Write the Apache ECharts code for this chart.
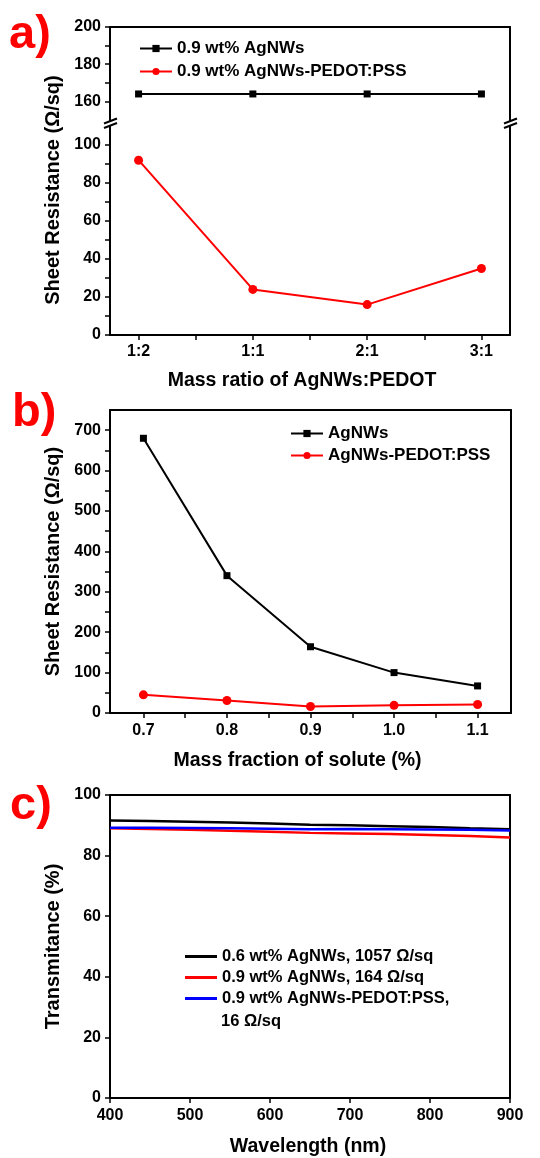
<!DOCTYPE html>
<html><head><meta charset="utf-8">
<script src="https://cdn.jsdelivr.net/npm/echarts@6/dist/echarts.min.js"></script>
<style>html,body{margin:0;padding:0;background:#fff}#c{width:540px;height:1158px}</style>
</head><body><div id="c"></div>
<script>
// ---------- Panel a ----------
const ratioCats = ['1:2', '1:1', '2:1', '3:1'];
const agA = [164, 164, 164, 164];
const pedotA = [92, 24, 16, 35];
const aUpperLabels = [160, 180, 200];
const aUpperTicks = [160, 170, 180, 190, 200];
const aLowerLabels = [0, 20, 40, 60, 80, 100];
const aLowerTicks = [0, 10, 20, 30, 40, 50, 60, 70, 80, 90, 100];
const aXTicks = [0, 0.5, 1, 1.5, 2, 2.5, 3];
const aNames = ['0.9 wt% AgNWs', '0.9 wt% AgNWs-PEDOT:PSS'];

// ---------- Panel b ----------
const massFrac = [0.7, 0.8, 0.9, 1.0, 1.1];
const agB = [680, 340, 164, 100, 67];
const pedotB = [45, 31, 16, 19, 21];
const bXTicks = [0.7, 0.75, 0.8, 0.85, 0.9, 0.95, 1.0, 1.05, 1.1];
const bYLabels = [0, 100, 200, 300, 400, 500, 600, 700];
const bYTicks = [0, 50, 100, 150, 200, 250, 300, 350, 400, 450, 500, 550, 600, 650, 700];
const bNames = ['AgNWs', 'AgNWs-PEDOT:PSS'];

// ---------- Panel c ----------
const wavelengths = [400, 450, 500, 550, 600, 650, 700, 750, 800, 850, 900];
const transAg06 = [91.6, 91.4, 91.2, 90.9, 90.6, 90.2, 90.0, 89.7, 89.4, 89.0, 88.7];
const transAg09 = [89.0, 88.8, 88.5, 88.2, 87.9, 87.5, 87.3, 87.1, 86.8, 86.5, 86.0];
const transPedot = [89.2, 89.2, 89.1, 89.0, 88.9, 88.7, 88.8, 88.7, 88.6, 88.5, 88.3];
const cNames = ['0.6 wt% AgNWs, 1057 Ω/sq', '0.9 wt% AgNWs, 164 Ω/sq', '0.9 wt% AgNWs-PEDOT:PSS, 16 Ω/sq'];

const FONT = "'Liberation Sans', Arial, sans-serif";
const BLACK = '#000000', RED = '#ff0000', BLUE = '#0000ff';
const lineAx = { show: true, onZero: false, lineStyle: { color: BLACK, width: 2 } };
const lbl = { color: BLACK, fontFamily: FONT, fontWeight: 'bold', fontSize: 16 };
const legA = { color: BLACK, fontFamily: FONT, fontWeight: 'bold', fontSize: 17 };
const legC = { color: BLACK, fontFamily: FONT, fontWeight: 'bold', fontSize: 16.5 };
const nameStyle = { color: BLACK, fontFamily: FONT, fontWeight: 'bold', fontSize: 20 };
const xNameStyle = (padR) => ({ color: BLACK, fontFamily: FONT, fontWeight: 'bold', fontSize: 19.5, padding: [0, padR, 0, 0] });
const tickStyle = { color: BLACK, width: 1.5 };

function borderAxis(grid, pos) {
  return { gridIndex: grid, type: 'value', position: pos, min: 0, max: 1,
    axisLine: lineAx, axisTick: { show: false }, axisLabel: { show: false }, splitLine: { show: false } };
}

const chart = echarts.init(document.getElementById('c'), null, { renderer: 'canvas' });
const option = {
  animation: false,
  backgroundColor: '#ffffff',
  grid: [
    { left: 110, right: 30, top: 27, height: 93 },
    { left: 110, right: 30, top: 126, height: 209 },
    { left: 110, right: 29, top: 410, height: 303 },
    { left: 110, right: 30, top: 795, height: 309 }
  ],
  xAxis: [
    { gridIndex: 0, type: 'value', position: 'top', min: -0.25, max: 3.25,
      axisLine: lineAx, axisTick: { show: false }, axisLabel: { show: false }, splitLine: { show: false } },
    { gridIndex: 1, type: 'value', position: 'bottom', min: -0.25, max: 3.25,
      name: 'Mass ratio of AgNWs:PEDOT', nameLocation: 'middle', nameGap: 36, nameTextStyle: xNameStyle(16),
      axisLine: lineAx,
      axisTick: { show: true, customValues: aXTicks, length: 5, lineStyle: tickStyle },
      axisLabel: Object.assign({ customValues: [0, 1, 2, 3], margin: 9, formatter: v => ratioCats[Math.round(v)] }, lbl),
      splitLine: { show: false } },
    { gridIndex: 2, type: 'value', position: 'bottom', min: 0.66, max: 1.14,
      name: 'Mass fraction of solute (%)', nameLocation: 'middle', nameGap: 38, nameTextStyle: xNameStyle(26),
      axisLine: lineAx,
      axisTick: { show: true, customValues: bXTicks, length: 5, lineStyle: tickStyle },
      axisLabel: Object.assign({ customValues: massFrac, margin: 10, formatter: v => v.toFixed(1) }, lbl),
      splitLine: { show: false } },
    { gridIndex: 3, type: 'value', position: 'bottom', min: 400, max: 900, interval: 100,
      name: 'Wavelength (nm)', nameLocation: 'middle', nameGap: 39, nameTextStyle: xNameStyle(4),
      axisLine: lineAx,
      axisTick: { show: true, length: 5, lineStyle: tickStyle },
      axisLabel: Object.assign({ margin: 10 }, lbl),
      splitLine: { show: false } },
    borderAxis(2, 'top'),
    borderAxis(3, 'top')
  ],
  yAxis: [
    { gridIndex: 0, type: 'value', position: 'left', min: 150, max: 200,
      axisLine: lineAx,
      axisTick: { show: true, customValues: aUpperTicks, length: 5, lineStyle: tickStyle },
      axisLabel: Object.assign({ customValues: aUpperLabels, margin: 9 }, lbl),
      splitLine: { show: false } },
    borderAxis(0, 'right'),
    { gridIndex: 1, type: 'value', position: 'left', min: 0, max: 110,
      axisLine: lineAx,
      axisTick: { show: true, customValues: aLowerTicks, length: 5, lineStyle: tickStyle },
      axisLabel: Object.assign({ customValues: aLowerLabels, margin: 9 }, lbl),
      splitLine: { show: false } },
    borderAxis(1, 'right'),
    { gridIndex: 2, type: 'value', position: 'left', min: 0, max: 750,
      name: 'Sheet Resistance (Ω/sq)', nameLocation: 'middle', nameGap: 47, nameTextStyle: nameStyle,
      axisLine: lineAx,
      axisTick: { show: true, customValues: bYTicks, length: 5, lineStyle: tickStyle },
      axisLabel: Object.assign({ customValues: bYLabels, margin: 9 }, lbl),
      splitLine: { show: false } },
    borderAxis(2, 'right'),
    { gridIndex: 3, type: 'value', position: 'left', min: 0, max: 100, interval: 20,
      name: 'Transmitance (%)', nameLocation: 'middle', nameGap: 46, nameTextStyle: nameStyle,
      axisLine: lineAx,
      axisTick: { show: true, length: 5, lineStyle: tickStyle },
      axisLabel: Object.assign({ margin: 9 }, lbl),
      splitLine: { show: false } },
    borderAxis(3, 'right')
  ],
  legend: [
    { orient: 'vertical', left: 134, top: 35, itemWidth: 32, itemHeight: 9, itemGap: 6,
      data: aNames, textStyle: legA, selectedMode: false },
    { orient: 'vertical', left: 285, top: 420, itemWidth: 32, itemHeight: 9, itemGap: 5,
      data: bNames, textStyle: legA, selectedMode: false },
    { orient: 'vertical', left: 180, top: 943, itemWidth: 32, itemHeight: 3, itemGap: 4,
      icon: 'rect', data: cNames, textStyle: legC, selectedMode: false,
      formatter: n => n === cNames[2] ? n.replace(' 16 Ω/sq', '') : n }
  ],
  series: [
    { name: aNames[0], type: 'line', xAxisIndex: 0, yAxisIndex: 0,
      data: agA.map((v, i) => [i, v]), symbol: 'rect', symbolSize: 7,
      itemStyle: { color: BLACK }, lineStyle: { color: BLACK, width: 2 } },
    { name: aNames[1], type: 'line', xAxisIndex: 1, yAxisIndex: 2,
      data: pedotA.map((v, i) => [i, v]), symbol: 'circle', symbolSize: 9,
      itemStyle: { color: RED }, lineStyle: { color: RED, width: 2 } },
    { name: bNames[0], type: 'line', xAxisIndex: 2, yAxisIndex: 4,
      data: agB.map((v, i) => [massFrac[i], v]), symbol: 'rect', symbolSize: 7,
      itemStyle: { color: BLACK }, lineStyle: { color: BLACK, width: 2 } },
    { name: bNames[1], type: 'line', xAxisIndex: 2, yAxisIndex: 4,
      data: pedotB.map((v, i) => [massFrac[i], v]), symbol: 'circle', symbolSize: 9,
      itemStyle: { color: RED }, lineStyle: { color: RED, width: 2 } },
    { name: cNames[0], type: 'line', xAxisIndex: 3, yAxisIndex: 6, showSymbol: false, symbol: 'none',
      data: transAg06.map((v, i) => [wavelengths[i], v]),
      itemStyle: { color: BLACK }, lineStyle: { color: BLACK, width: 2.5 } },
    { name: cNames[1], type: 'line', xAxisIndex: 3, yAxisIndex: 6, showSymbol: false, symbol: 'none',
      data: transAg09.map((v, i) => [wavelengths[i], v]),
      itemStyle: { color: RED }, lineStyle: { color: RED, width: 2.5 } },
    { name: cNames[2], type: 'line', xAxisIndex: 3, yAxisIndex: 6, showSymbol: false, symbol: 'none',
      data: transPedot.map((v, i) => [wavelengths[i], v]),
      itemStyle: { color: BLUE }, lineStyle: { color: BLUE, width: 2.5 } }
  ],
  graphic: [
    { type: 'text', x: 9, y: 35, style: { text: 'a)', fill: RED, align: 'left', verticalAlign: 'middle', font: "bold 47px 'Liberation Sans', Arial, sans-serif" } },
    { type: 'text', x: 12, y: 413, style: { text: 'b)', fill: RED, align: 'left', verticalAlign: 'middle', font: "bold 47px 'Liberation Sans', Arial, sans-serif" } },
    { type: 'text', x: 10, y: 806, style: { text: 'c)', fill: RED, align: 'left', verticalAlign: 'middle', font: "bold 47px 'Liberation Sans', Arial, sans-serif" } },
    { type: 'text', x: 53, y: 190, rotation: Math.PI / 2,
      style: { text: 'Sheet Resistance (Ω/sq)', fill: BLACK, align: 'center', verticalAlign: 'middle',
        font: "bold 20px 'Liberation Sans', Arial, sans-serif" } },
    { type: 'text', left: 221, top: 1013,
      style: { text: '16 Ω/sq', fill: BLACK, font: "bold 16.5px 'Liberation Sans', Arial, sans-serif" } },
    // axis break marks
    { type: 'line', shape: { x1: 104, y1: 123.5, x2: 117, y2: 118.5 }, style: { stroke: BLACK, lineWidth: 2 } },
    { type: 'line', shape: { x1: 104, y1: 128, x2: 117, y2: 123 }, style: { stroke: BLACK, lineWidth: 2 } },
    { type: 'line', shape: { x1: 504, y1: 123.5, x2: 517, y2: 118.5 }, style: { stroke: BLACK, lineWidth: 2 } },
    { type: 'line', shape: { x1: 504, y1: 128, x2: 517, y2: 123 }, style: { stroke: BLACK, lineWidth: 2 } }
  ]
};
chart.setOption(option);
</script></body></html>
